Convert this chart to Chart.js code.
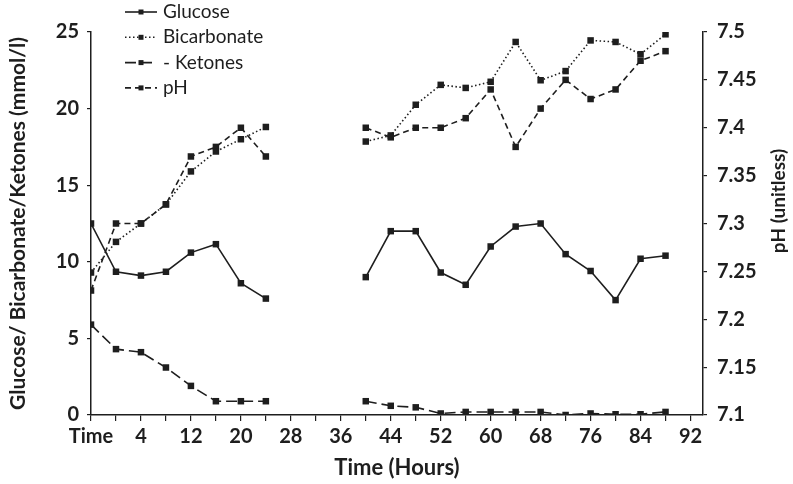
<!DOCTYPE html>
<html>
<head>
<meta charset="utf-8">
<script src="https://cdn.jsdelivr.net/npm/chart.js@4.4.1/dist/chart.umd.min.js"></script>
<style>
  html, body { margin: 0; padding: 0; background: #fff; }
  #wrap { width: 793px; height: 484px; position: relative; }
</style>
</head>
<body>
<div id="wrap"><canvas id="chart"></canvas></div>
<script>
// categories along the time axis (first one is the "Time" header cell)
const timeLabels = ['Time', '0', '4', '8', '12', '16', '20', '24', '28', '32', '36', '40', '44',
    '48', '52', '56', '60', '64', '68', '72', '76', '80', '84', '88', '92'];

// mmol/l
const glucose = [12.5, 9.35, 9.1, 9.35, 10.6, 11.15, 8.6, 7.6, null, null, null,
    9.0, 12.0, 12.0, 9.3, 8.5, 11.0, 12.3, 12.5, 10.5, 9.4, 7.5, 10.2, 10.4, null];
const bicarbonate = [9.3, 11.3, 12.5, 13.75, 15.9, 17.2, 18.0, 18.8, null, null, null,
    17.85, 18.25, 20.25, 21.55, 21.35, 21.75, 24.35, 21.85, 22.45, 24.45, 24.35, 23.55, 24.85, null];
const ketones = [5.9, 4.3, 4.1, 3.1, 1.9, 0.9, 0.9, 0.9, null, null, null,
    0.9, 0.6, 0.5, 0.1, 0.2, 0.2, 0.2, 0.2, 0.0, 0.1, 0.05, 0.05, 0.2, null];
// unitless
const ph = [7.23, 7.30, 7.30, 7.32, 7.37, 7.38, 7.40, 7.37, null, null, null,
    7.40, 7.39, 7.40, 7.40, 7.41, 7.44, 7.38, 7.42, 7.45, 7.43, 7.44, 7.47, 7.48, null];

const INK = '#1e1e1e';
const FONT = 'Lato, "Open Sans", sans-serif';
const tickFont = { family: FONT, size: 20, weight: 'bold' };

const toPoints = (arr) => arr.map((v, i) => ({ x: i, y: v }));

const makeSeries = (label, values, dash, axis) => ({
    label,
    data: toPoints(values),
    yAxisID: axis,
    borderColor: INK,
    backgroundColor: INK,
    pointBackgroundColor: INK,
    pointBorderWidth: 0,
    borderWidth: 1.6,
    borderDash: dash,
    pointStyle: 'rect',
    pointRadius: 4.6,
    tension: 0,
    spanGaps: false
});

// legend sits over the top-left of the plot, plus the right title reads bottom-up
const overlayPlugin = {
    id: 'overlay',
    afterDraw(chart) {
        const ctx = chart.ctx;
        ctx.save();
        chart.data.datasets.forEach((ds, i) => {
            const y = 12 + i * 25.3;
            ctx.strokeStyle = INK;
            ctx.lineWidth = 1.6;
            ctx.setLineDash(ds.borderDash);
            ctx.beginPath();
            ctx.moveTo(125, y);
            ctx.lineTo(157, y);
            ctx.stroke();
            ctx.setLineDash([]);
            ctx.fillStyle = INK;
            ctx.fillRect(138.5, y - 2.5, 5, 5);
            ctx.font = `19px ${FONT}`;
            ctx.textAlign = 'left';
            ctx.textBaseline = 'middle';
            ctx.fillText(ds.label, 163, y);
        });
        ctx.translate(779, 201);
        ctx.rotate(-Math.PI / 2);
        ctx.font = `bold 19px ${FONT}`;
        ctx.textAlign = 'center';
        ctx.textBaseline = 'middle';
        ctx.fillText('pH (unitless)', 0, 0);
        ctx.restore();
    }
};

new Chart(document.getElementById('chart'), {
    type: 'line',
    data: {
        datasets: [
            makeSeries('Glucose', glucose, [], 'y'),
            makeSeries('Bicarbonate', bicarbonate, [1.5, 2.5], 'y'),
            makeSeries('- Ketones', ketones, [11, 5], 'y'),
            makeSeries('pH', ph, [6, 4], 'y2')
        ]
    },
    options: {
        responsive: true,
        maintainAspectRatio: false,
        animation: false,
        layout: { padding: { top: 32, left: 0, right: 0, bottom: 0 } },
        plugins: { legend: { display: false }, tooltip: { enabled: false } },
        scales: {
            x: {
                type: 'linear',
                min: 0,
                max: 24.5,
                afterBuildTicks: (s) => { s.ticks = timeLabels.map((_, i) => ({ value: i })); },
                afterFit: (s) => { s.height = 69; },
                ticks: {
                    autoSkip: false,
                    maxRotation: 0,
                    padding: 4,
                    color: INK,
                    font: tickFont,
                    callback: (v, i) => (i % 2 === 0 ? timeLabels[i] : '')
                },
                grid: { drawOnChartArea: false, drawTicks: true, tickLength: 6, color: INK, lineWidth: 1.2 },
                border: { color: INK, width: 1.5 },
                title: {
                    display: true,
                    text: 'Time (Hours)',
                    color: INK,
                    font: { family: FONT, size: 22, weight: 'bold' },
                    padding: { top: 0, bottom: 3 }
                }
            },
            y: {
                position: 'left',
                min: 0,
                max: 25,
                afterFit: (s) => { s.width = 91; },
                ticks: { stepSize: 5, padding: 8, color: INK, font: tickFont },
                grid: { drawOnChartArea: false, drawTicks: true, tickLength: 4, color: INK, lineWidth: 1.2 },
                border: { color: INK, width: 1.5 },
                title: {
                    display: true,
                    text: 'Glucose/ Bicarbonate/Ketones (mmol/l)',
                    color: INK,
                    font: { family: FONT, size: 21, weight: 'bold' },
                    padding: { top: 6, bottom: 0 }
                }
            },
            y2: {
                position: 'right',
                min: 7.1,
                max: 7.5,
                afterFit: (s) => { s.width = 90; },
                ticks: {
                    stepSize: 0.05,
                    padding: 10,
                    color: INK,
                    font: tickFont,
                    callback: (v) => String(parseFloat(v.toFixed(2)))
                },
                grid: { drawOnChartArea: false, drawTicks: true, tickLength: 4, color: INK, lineWidth: 1.2 },
                border: { color: INK, width: 1.5 }
            }
        }
    },
    plugins: [overlayPlugin]
});
</script>
</body>
</html>
